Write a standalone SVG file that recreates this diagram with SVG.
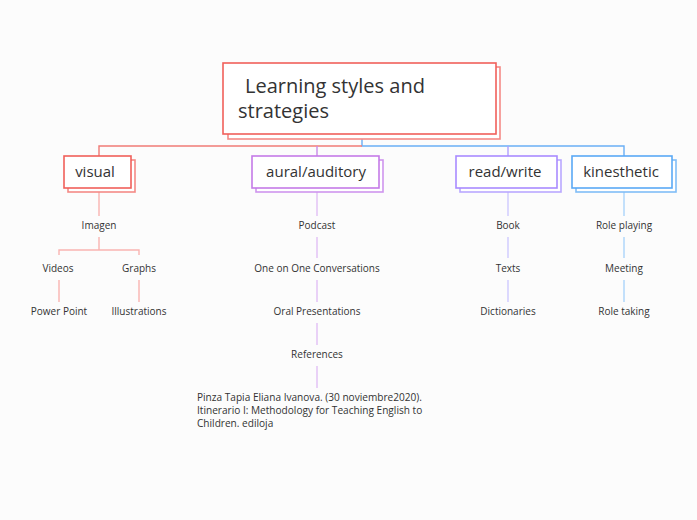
<svg xmlns="http://www.w3.org/2000/svg" width="697" height="520" viewBox="0 0 697 520">
<style>
.t{font-family:"Open Sans","Noto Sans",sans-serif;fill:#333;}
.c{font-size:10px;text-anchor:middle;}
.n{font-size:15px;text-anchor:middle;}
.box{fill:#fff;stroke-width:1.6;}
</style>
<rect width="697" height="520" fill="#fcfcfc"/>
<g id="connectors" fill="none" stroke-width="1.4">
  <path d="M362 139 V146 H624 V156" stroke="#6aaef5"/>
  <path d="M362 146 H99 V156" stroke="#f07b76"/>
  <path d="M317 146 V156" stroke="#c98ae8"/>
  <path d="M508 146 V156" stroke="#b0a0ff"/>
  <g stroke="#f9b4b1">
    <path d="M99 192 V216"/>
    <path d="M99 237 V250 M59 255 V250 H139 V255"/>
    <path d="M59 280 V302 M139 280 V302"/>
  </g>
  <g stroke="#e2bff5">
    <path d="M317 192 V216 M317 237 V258 M317 280 V302 M317 323 V345 M317 366 V388"/>
  </g>
  <g stroke="#cfcaff">
    <path d="M508 192 V216 M508 237 V258 M508 280 V302"/>
  </g>
  <g stroke="#acd5fb">
    <path d="M624 192 V216 M624 237 V258 M624 280 V302"/>
  </g>
</g>
<g id="root">
  <rect class="box" x="228" y="67" width="272" height="72" stroke="#f48a86"/>
  <rect class="box" x="223" y="63" width="273" height="71" stroke="#f0605a"/>
  <text class="t" font-size="20"><tspan x="245" y="93">Learning styles and</tspan><tspan x="238" y="117.5">strategies</tspan></text>
</g>
<g id="visual">
  <rect class="box" x="68" y="160" width="67" height="32" stroke="#f48a86"/>
  <rect class="box" x="64" y="156" width="67" height="32" stroke="#f0605a"/>
  <text class="t n" x="95" y="177">visual</text>
</g>
<g id="aural">
  <rect class="box" x="256" y="160" width="127" height="32" stroke="#cf95ee"/>
  <rect class="box" x="252" y="156" width="127" height="32" stroke="#c57be8"/>
  <text class="t n" x="316" y="177">aural/auditory</text>
</g>
<g id="readwrite">
  <rect class="box" x="460" y="160" width="101" height="32" stroke="#b9a8ff"/>
  <rect class="box" x="456" y="156" width="101" height="32" stroke="#a98bff"/>
  <text class="t n" x="505" y="177">read/write</text>
</g>
<g id="kinesthetic">
  <rect class="box" x="576" y="160" width="100" height="32" stroke="#80bdf7"/>
  <rect class="box" x="572" y="156" width="100" height="32" stroke="#5aa9f5"/>
  <text class="t n" x="621" y="177">kinesthetic</text>
</g>
<g id="imagen"><text class="t c" x="99" y="229">Imagen</text></g>
<g id="videos"><text class="t c" x="58" y="272">Videos</text></g>
<g id="graphs"><text class="t c" x="139" y="272">Graphs</text></g>
<g id="powerpoint"><text class="t c" x="59" y="315">Power Point</text></g>
<g id="illustrations"><text class="t c" x="139" y="315">Illustrations</text></g>
<g id="podcast"><text class="t c" x="317" y="229">Podcast</text></g>
<g id="conversations"><text class="t c" x="317" y="272">One on One Conversations</text></g>
<g id="oral"><text class="t c" x="317" y="315">Oral Presentations</text></g>
<g id="references"><text class="t c" x="317" y="358">References</text></g>
<g id="citation">
  <text class="t" font-size="10.1"><tspan x="197" y="401">Pinza Tapia Eliana Ivanova. (30 noviembre2020).</tspan><tspan x="197" y="414">Itinerario I: Methodology for Teaching English to</tspan><tspan x="197" y="427">Children. ediloja</tspan></text>
</g>
<g id="book"><text class="t c" x="508" y="229">Book</text></g>
<g id="texts"><text class="t c" x="508" y="272">Texts</text></g>
<g id="dictionaries"><text class="t c" x="508" y="315">Dictionaries</text></g>
<g id="roleplaying"><text class="t c" x="624" y="229">Role playing</text></g>
<g id="meeting"><text class="t c" x="624" y="272">Meeting</text></g>
<g id="roletaking"><text class="t c" x="624" y="315">Role taking</text></g>
</svg>
